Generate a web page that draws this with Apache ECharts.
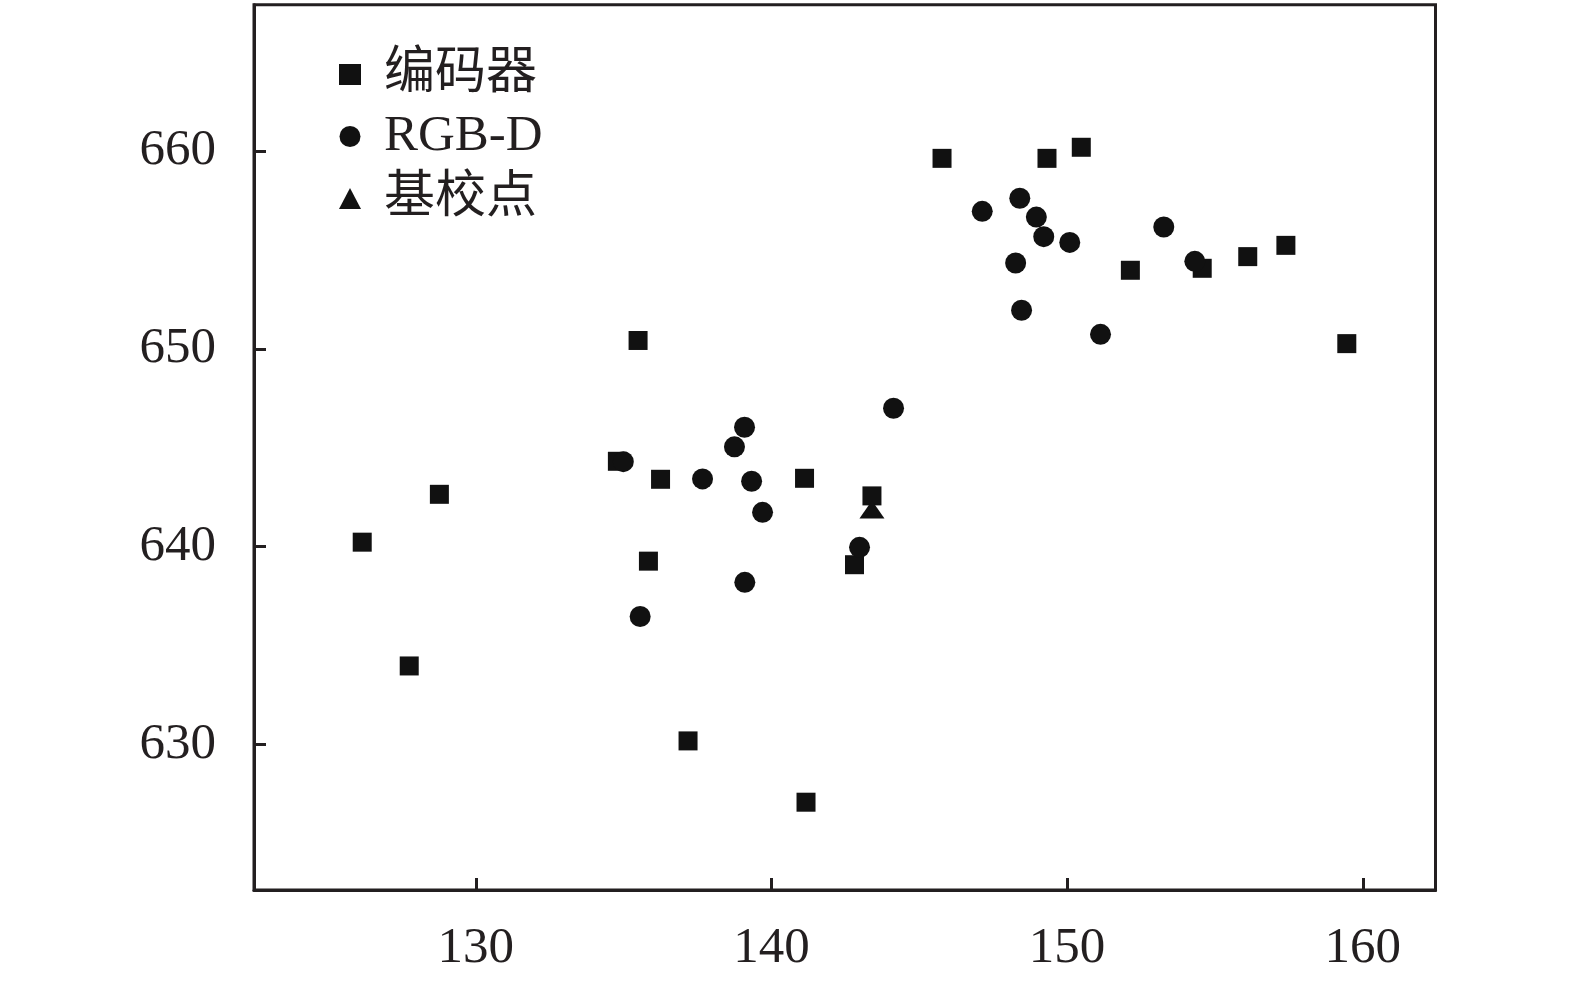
<!DOCTYPE html>
<html>
<head>
<meta charset="utf-8">
<script src="https://cdn.jsdelivr.net/npm/echarts@6/dist/echarts.min.js"></script>
<style>html,body{margin:0;padding:0;background:#fff}#c{width:1575px;height:986px}</style>
</head>
<body>
<div id="c"></div>
<script>
const seriesNames = ['编码器', 'RGB-D', '基校点'];
const xTicks = [130, 140, 150, 160];
const yTicks = [630, 640, 650, 660];

const encoderPts = [
  [145.77, 659.63], [149.32, 659.63], [150.48, 660.19], [152.14, 653.97],
  [154.57, 654.07], [156.11, 654.66], [157.40, 655.23], [159.46, 650.26],
  [135.49, 650.42], [134.79, 644.31], [136.25, 643.40], [141.12, 643.45],
  [143.40, 642.56], [126.16, 640.22], [128.77, 642.64], [135.84, 639.26],
  [142.81, 639.08], [127.75, 633.96], [137.18, 630.17], [141.17, 627.07]
];
const rgbdPts = [
  [147.13, 656.95], [148.40, 657.61], [148.96, 656.66], [149.21, 655.67],
  [150.09, 655.38], [153.27, 656.16], [154.32, 654.42], [148.26, 654.34],
  [148.46, 651.95], [151.13, 650.73], [144.13, 646.99], [139.09, 646.03],
  [138.75, 645.04], [137.67, 643.42], [139.33, 643.30], [139.70, 641.73],
  [134.99, 644.29], [142.98, 639.96], [139.10, 638.19], [135.56, 636.46]
];
const basePts = [[143.40, 641.87]];

const ink = '#231f20';
const mark = '#111111';
const serif = "'Liberation Serif', 'Times New Roman', 'Noto Sans CJK SC', serif";

const chart = echarts.init(document.getElementById('c'), null, {renderer: 'canvas'});
chart.setOption({
  animation: false,
  backgroundColor: '#fff',
  grid: {
    left: 254, right: 139.5, top: 4.7, bottom: 96,
    show: true, borderColor: ink, borderWidth: 3, backgroundColor: 'transparent'
  },
  legend: {
    orient: 'vertical',
    left: 334, top: 44,
    itemWidth: 22, itemHeight: 21,
    itemGap: 11,
    data: seriesNames,
    textStyle: {
      fontFamily: serif, fontSize: 51, color: ink,
      padding: [0, 0, 0, 18]
    }
  },
  xAxis: {
    type: 'value',
    min: 122.5, max: 162.46,
    axisLine: {show: true, onZero: false, lineStyle: {color: ink, width: 3}},
    axisTick: {show: true, inside: true, length: 12, customValues: xTicks, lineStyle: {color: ink, width: 3}},
    axisLabel: {customValues: xTicks, fontFamily: serif, fontSize: 51, color: ink, margin: 33},
    splitLine: {show: false}
  },
  yAxis: {
    type: 'value',
    min: 622.63, max: 667.4,
    axisLine: {show: true, onZero: false, lineStyle: {color: ink, width: 3}},
    axisTick: {show: true, inside: true, length: 12, customValues: yTicks, lineStyle: {color: ink, width: 3}},
    axisLabel: {customValues: yTicks, fontFamily: serif, fontSize: 51, color: ink, margin: 38},
    splitLine: {show: false}
  },
  series: [
    {
      name: seriesNames[0], type: 'scatter', symbol: 'rect', symbolSize: 19,
      itemStyle: {color: mark, opacity: 1}, data: encoderPts
    },
    {
      name: seriesNames[1], type: 'scatter', symbol: 'circle', symbolSize: 21,
      itemStyle: {color: mark, opacity: 1}, data: rgbdPts
    },
    {
      name: seriesNames[2], type: 'scatter', symbol: 'triangle', symbolSize: [25, 18],
      itemStyle: {color: mark, opacity: 1}, data: basePts
    }
  ]
});
</script>
</body>
</html>
